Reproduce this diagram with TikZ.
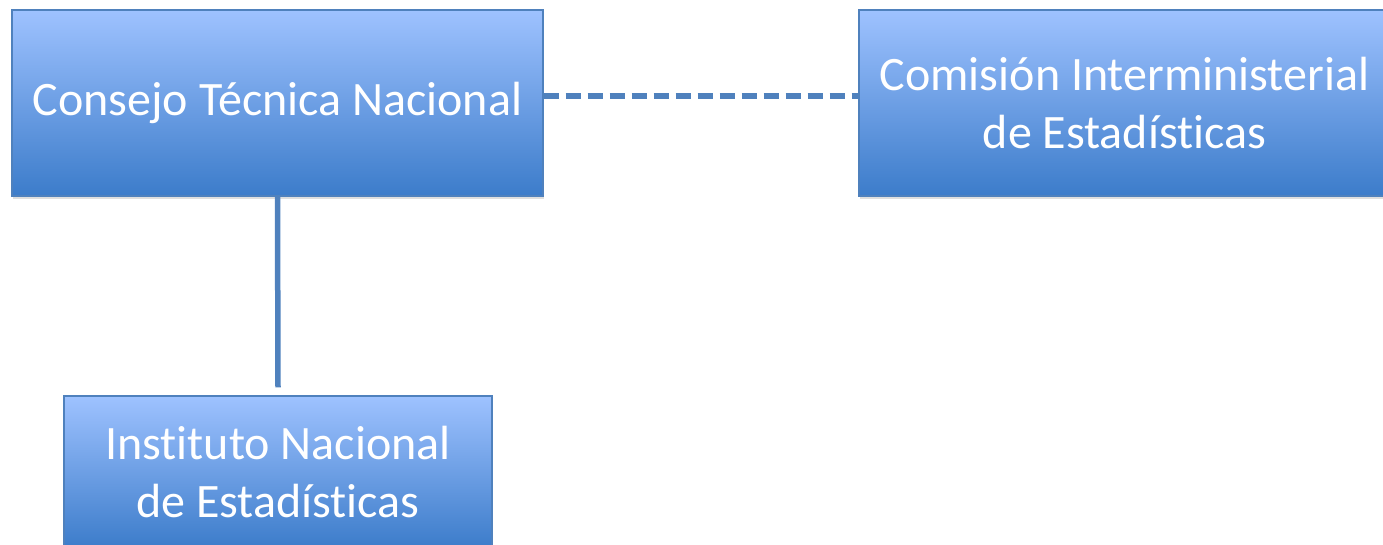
\documentclass[tikz,border=0pt]{standalone}
\usepackage{fontspec}
\setmainfont{Carlito}[Ligatures=CommonOff]
\usetikzlibrary{shadows}
\definecolor{linkblue}{RGB}{79,129,189}
\definecolor{boxtop}{RGB}{158,194,255}
\definecolor{boxmid}{RGB}{128,168,234}
\definecolor{boxbot}{RGB}{60,124,202}
\begin{document}
\begin{tikzpicture}[x=1pt, y=-1pt,
    box/.style={rectangle, draw=linkblue, line width=1.2pt, text=white,
        top color=boxtop, middle color=boxmid, bottom color=boxbot,
        drop shadow={opacity=0.25, shadow xshift=1pt, shadow yshift=-3pt},
        align=center, inner sep=0pt,
        font=\fontsize{48}{58}\selectfont},
    link/.style={linkblue, line width=5.5pt}]
        \useasboundingbox (0,0) rectangle (1383,545);

        \draw (277.5,103) node[box, minimum width=531pt, minimum height=186pt] (ctn) {Consejo Técnica Nacional};
        \draw (1124.5,103) node[box, minimum width=531pt, minimum height=186pt] (cie) {Comisión Interministerial\\de Estadísticas};
        \draw (278,472) node[box, minimum width=428pt, minimum height=152pt] (ine) {Instituto Nacional\\de Estadísticas};

        \draw[link] (ctn.south) -- ([yshift=8pt]ine.north);
        \draw[link, dash pattern=on 15pt off 7pt] ([yshift=7pt]ctn.east) -- ([yshift=7pt]cie.west);
    \end{tikzpicture}
\end{document}
